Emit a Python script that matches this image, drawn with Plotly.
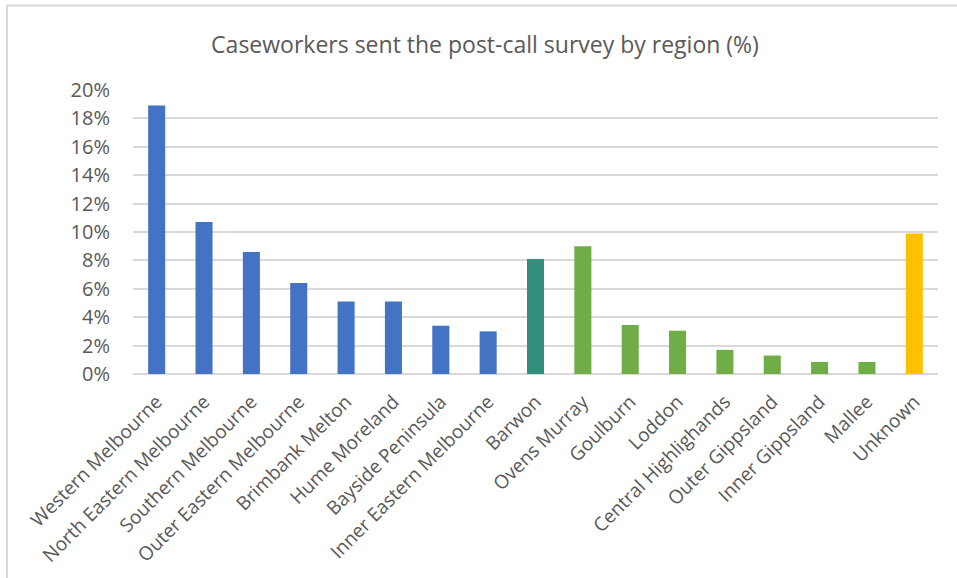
import plotly.graph_objects as go

# Share of caseworkers sent the post-call survey, by region (%)
regions = [
    "Western Melbourne", "North Eastern Melbourne", "Southern Melbourne",
    "Outer Eastern Melbourne", "Brimbank Melton", "Hume Moreland",
    "Bayside Peninsula", "Inner Eastern Melbourne", "Barwon", "Ovens Murray",
    "Goulburn", "Loddon", "Central Highlighands", "Outer Gippsland",
    "Inner Gippsland", "Mallee", "Unknown",
]
shares = [18.9, 10.7, 8.6, 6.4, 5.1, 5.1, 3.4, 3.0, 8.1, 9.0,
          3.45, 3.05, 1.7, 1.3, 0.85, 0.85, 9.9]
groups = ["metro"] * 8 + ["barwon"] + ["rural"] * 7 + ["unknown"]

group_colors = {
    "metro": "#4472C4",
    "barwon": "#328E7D",
    "rural": "#70AD47",
    "unknown": "#FFC000",
}

W, H = 957, 578
ML, MR, MT, MB = 133, 19, 90, 204
FONT = "Open Sans"
GREY = "#595959"

fig = go.Figure(
    go.Bar(
        x=regions,
        y=shares,
        marker=dict(color=[group_colors[g] for g in groups], line=dict(width=0)),
        hovertemplate="%{x}: %{y}%<extra></extra>",
    )
)

# light frame around the chart (top and left edges)
pw, ph = W - ML - MR, H - MT - MB
def px_x(p):
    return (p - ML) / pw
def px_y(p):
    return (H - MB - p) / ph

frame = dict(type="line", xref="paper", yref="paper",
             line=dict(color="#D9D9D9", width=2), layer="below")
fig.add_shape(**frame, x0=px_x(7), x1=px_x(7), y0=px_y(5), y1=px_y(H + 10))
fig.add_shape(**frame, x0=px_x(7), x1=px_x(W + 10), y0=px_y(5.5), y1=px_y(5.5))

fig.update_layout(
    width=W, height=H,
    margin=dict(l=ML, r=MR, t=MT, b=MB, pad=0),
    paper_bgcolor="white", plot_bgcolor="white",
    bargap=0.64,
    showlegend=False,
    font=dict(family=FONT, color=GREY),
    title=dict(
        text="Caseworkers sent the post-call survey by region (%)",
        x=485 / W, xanchor="center", xref="container",
        y=1 - 45 / H, yanchor="middle", yref="container",
        font=dict(family=FONT, size=23, color=GREY),
    ),
    xaxis=dict(
        tickangle=-45,
        tickfont=dict(family=FONT, size=19, color=GREY),
        showgrid=False, zeroline=False, showline=False,
        ticks="", ticklabelstandoff=12,
    ),
    yaxis=dict(
        range=[0, 20], dtick=2, ticksuffix="%",
        tickfont=dict(family=FONT, size=20, color=GREY),
        showgrid=True, gridcolor="#D9D9D9", gridwidth=1.5,
        zeroline=True, zerolinecolor="#D9D9D9", zerolinewidth=1.5,
        showline=False, ticks="", ticklabelstandoff=22,
    ),
)

fig.write_html("out.html")
